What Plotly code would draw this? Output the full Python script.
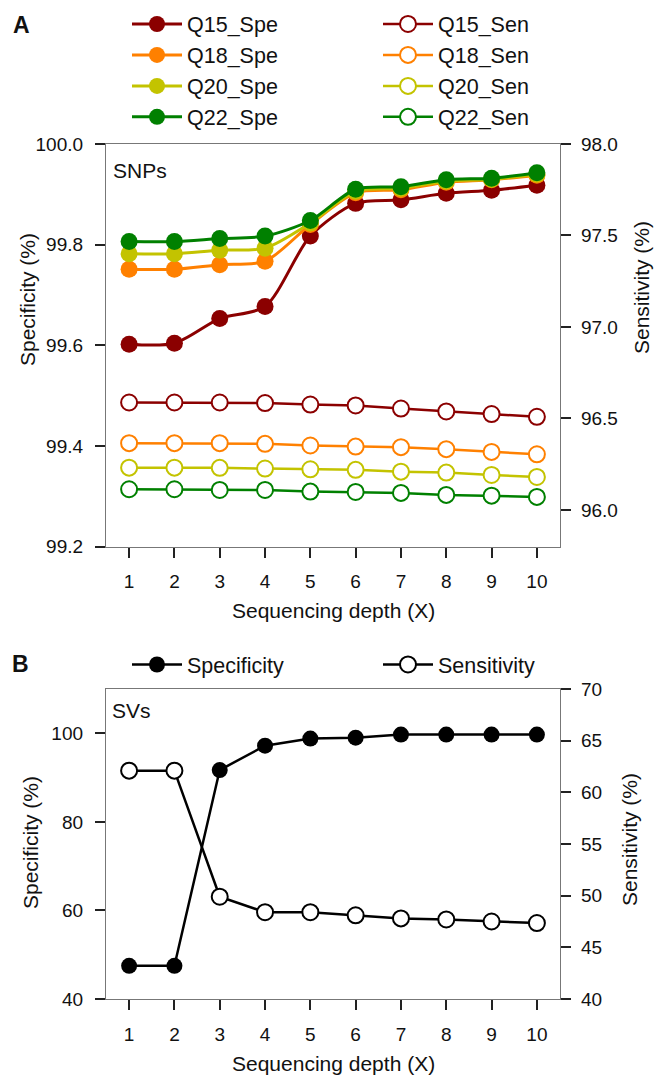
import plotly.graph_objects as go

depth = [1, 2, 3, 4, 5, 6, 7, 8, 9, 10]

q15_spe = [99.602, 99.604, 99.653, 99.677, 99.817, 99.882, 99.889, 99.902, 99.908, 99.918]
q18_spe = [99.751, 99.751, 99.760, 99.767, 99.840, 99.903, 99.909, 99.924, 99.929, 99.938]
q20_spe = [99.782, 99.782, 99.789, 99.793, 99.843, 99.906, 99.912, 99.926, 99.930, 99.940]
q22_spe = [99.806, 99.806, 99.812, 99.817, 99.848, 99.910, 99.915, 99.929, 99.932, 99.943]

q15_sen = [96.587, 96.587, 96.587, 96.584, 96.576, 96.571, 96.554, 96.538, 96.524, 96.509]
q18_sen = [96.365, 96.365, 96.365, 96.361, 96.352, 96.346, 96.343, 96.332, 96.317, 96.304]
q20_sen = [96.231, 96.231, 96.230, 96.226, 96.222, 96.219, 96.209, 96.204, 96.191, 96.180]
q22_sen = [96.113, 96.113, 96.109, 96.109, 96.100, 96.098, 96.093, 96.082, 96.078, 96.071]

sv_spe = [47.5, 47.5, 91.7, 97.2, 98.8, 99.0, 99.7, 99.7, 99.7, 99.7]
sv_sen = [62.1, 62.1, 49.9, 48.4, 48.4, 48.1, 47.8, 47.7, 47.5, 47.35]

spe_names = ["Q15_Spe", "Q18_Spe", "Q20_Spe", "Q22_Spe"]
sen_names = ["Q15_Sen", "Q18_Sen", "Q20_Sen", "Q22_Sen"]
colors = ["#8b0000", "#ff8000", "#c3c300", "#008000"]

FONT = "Liberation Sans, Arial, sans-serif"
W, H = 654, 1079
L, R, T, B = 106, 94, 144, 80
PW = W - L - R
PH = H - T - B


def px_x(p):
    return (p - L) / PW


def px_y(p):
    return (H - B - p) / PH


fig = go.Figure()

spe_vals = [q15_spe, q18_spe, q20_spe, q22_spe]
sen_vals = [q15_sen, q18_sen, q20_sen, q22_sen]

for name, vals, c in zip(spe_names, spe_vals, colors):
    fig.add_trace(go.Scatter(
        x=depth, y=vals, name=name, mode="lines+markers",
        line=dict(color=c, width=3, shape="spline", smoothing=0.8),
        marker=dict(color=c, size=17, line=dict(width=0)),
        xaxis="x", yaxis="y", legend="legend",
    ))

for name, vals, c in zip(sen_names, sen_vals, colors):
    fig.add_trace(go.Scatter(
        x=depth, y=vals, name=name, mode="lines+markers",
        line=dict(color=c, width=2.5),
        marker=dict(color="white", size=16, line=dict(color=c, width=2)),
        xaxis="x", yaxis="y2", legend="legend2",
    ))

fig.add_trace(go.Scatter(
    x=depth, y=sv_spe, name="Specificity", mode="lines+markers",
    line=dict(color="black", width=2.5),
    marker=dict(color="black", size=16, line=dict(width=0)),
    xaxis="x2", yaxis="y3", legend="legend3",
))
fig.add_trace(go.Scatter(
    x=depth, y=sv_sen, name="Sensitivity", mode="lines+markers",
    line=dict(color="black", width=2.5),
    marker=dict(color="white", size=16, line=dict(color="black", width=2)),
    xaxis="x2", yaxis="y4", legend="legend4",
))

axis_common = dict(
    showline=True, linecolor="#777777", linewidth=1.3,
    ticks="outside", ticklen=10, tickwidth=1.5, tickcolor="#222222",
    showgrid=False, zeroline=False,
    tickfont=dict(family=FONT, size=19, color="#111111"),
)

domA = [px_y(546.5), 1.0]
domB = [0.0, px_y(689)]

fig.update_layout(
    width=W, height=H,
    margin=dict(l=L, r=R, t=T, b=B, autoexpand=False),
    paper_bgcolor="white", plot_bgcolor="white",
    font=dict(family=FONT, color="#111111"),
    showlegend=True,
    xaxis=dict(axis_common, domain=[0, 1], range=[0.49, 10.51],
               tickvals=depth, mirror=True, anchor="y",
               ticklabelstandoff=8),
    yaxis=dict(axis_common, domain=domA, range=[99.2, 100.0],
               tickvals=[99.2, 99.4, 99.6, 99.8, 100.0], tickformat=".1f",
               anchor="x", ticklabelstandoff=8),
    yaxis2=dict(axis_common, overlaying="y", side="right",
                range=[95.8, 98.0],
                tickvals=[96.0, 96.5, 97.0, 97.5, 98.0], tickformat=".1f",
                anchor="x", ticklabelstandoff=6),
    xaxis2=dict(axis_common, domain=[0, 1], range=[0.49, 10.51],
                tickvals=depth, mirror=True, anchor="y3",
                ticklabelstandoff=8),
    yaxis3=dict(axis_common, domain=domB, range=[40, 110],
                tickvals=[40, 60, 80, 100], anchor="x2",
                ticklabelstandoff=8),
    yaxis4=dict(axis_common, overlaying="y3", side="right",
                range=[40, 70], tickvals=[40, 45, 50, 55, 60, 65, 70],
                anchor="x2", ticklabelstandoff=6),
)

leg_common = dict(
    orientation="v", xanchor="left", yanchor="top",
    bgcolor="rgba(0,0,0,0)", borderwidth=0,
    font=dict(family=FONT, size=21.5, color="#111111"),
    itemwidth=50, itemclick=False, itemdoubleclick=False,
)
fig.update_layout(
    legend=dict(leg_common, x=px_x(127), y=px_y(3.5)),
    legend2=dict(leg_common, x=px_x(378), y=px_y(3.5)),
    legend3=dict(leg_common, x=px_x(127), y=px_y(644)),
    legend4=dict(leg_common, x=px_x(378), y=px_y(644)),
)

ann = []
def add_text(text, x, y, size, xanchor="center", angle=0, bold=False):
    ann.append(dict(
        text=("<b>%s</b>" % text) if bold else text,
        x=x, y=y, xref="paper", yref="paper",
        xanchor=xanchor, yanchor="middle", showarrow=False,
        textangle=angle, font=dict(family=FONT, size=size, color="#111111"),
    ))

add_text("A", px_x(21), px_y(25), 23, bold=True)
add_text("B", px_x(20), px_y(664), 23, bold=True)
add_text("SNPs", px_x(111), px_y(170), 21, xanchor="left")
add_text("SVs", px_x(110), px_y(710), 21, xanchor="left")
add_text("Specificity (%)", px_x(27), px_y(300), 21, angle=-90)
add_text("Sensitivity (%)", px_x(641), px_y(288), 21, angle=-90)
add_text("Specificity (%)", px_x(30), px_y(843), 21, angle=-90)
add_text("Sensitivity (%)", px_x(629), px_y(840), 21, angle=-90)
add_text("Sequencing depth (X)", px_x(333), px_y(610), 21)
add_text("Sequencing depth (X)", px_x(333), px_y(1063), 21)
fig.update_layout(annotations=ann)

fig.write_html(
    "out.html",
    config={"displayModeBar": False},
    post_script="document.body.style.margin='0';document.body.style.overflow='hidden';",
)
